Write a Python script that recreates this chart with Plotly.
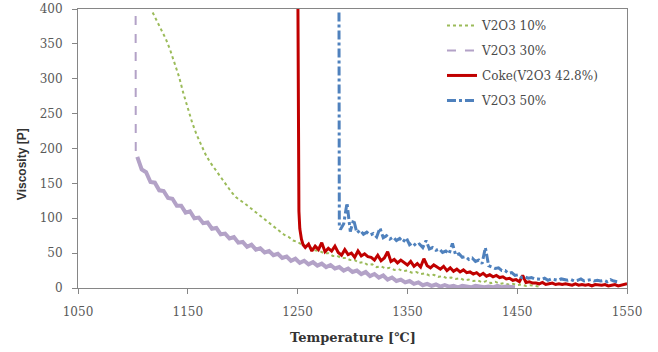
import plotly.graph_objects as go

# ---------------- data ----------------
# V2O3 10 %
g_T = list(range(1118, 1471, 4))
g_V = [395, 382, 370, 357, 341, 323, 303, 279, 256, 237,
       220, 205, 192, 181, 172, 163, 154, 145, 137, 130,
       126, 121, 116, 111, 105, 100, 95, 90, 85, 80,
       76, 73, 68, 66, 62, 60, 58, 54, 53, 50,
       50, 46, 46, 43, 43, 40, 40, 36, 37, 33,
       34, 30, 31, 28, 29, 26, 27, 24, 25, 22,
       23, 20, 21, 18, 19, 16, 17, 14, 15, 13,
       14, 11, 12, 10, 11, 8, 10, 7, 9, 6,
       7, 5, 6, 4, 5, 3, 4, 3, 2]

# V2O3 30 %  (vertical drop, then noisy decay)
p_head_T = [1102.5, 1102.6]
p_head_V = [390, 195]
p_T = list(range(1104, 1452, 4))
p_V = [188, 170, 166, 152, 151, 140, 139, 129, 128, 118,
       118, 108, 110, 100, 101, 93, 94, 85, 86, 77,
       78, 71, 73, 65, 66, 59, 62, 55, 57, 51,
       53, 47, 49, 43, 45, 39, 42, 36, 39, 34,
       37, 32, 35, 30, 33, 28, 30, 25, 28, 23,
       25, 20, 23, 17, 20, 15, 18, 12, 15, 10,
       12, 8, 10, 6, 8, 4, 6, 3, 5, 2,
       4, 2, 3, 1, 3, 2, 1, 3, 2, 1,
       2, 1, 3, 1, 2, 1, 1]

# Coke (V2O3 42.8 %)
c_T = [1250.3, 1250.6, 1251.2, 1252, 1253.5, 1255] + list(range(1257, 1551, 3)) + [1550]
c_V = [405, 200, 110, 85, 70, 62,
       58, 63, 53, 60, 55, 65, 52, 57, 53, 60,
       51, 47, 55, 48, 50, 44, 53, 46, 49, 45,
       44, 40, 47, 39, 43, 52, 38, 41, 36, 40,
       37, 33, 38, 31, 35, 30, 42, 32, 29, 33,
       30, 27, 31, 25, 29, 24, 27, 23, 26, 22,
       23, 20, 22, 18, 21, 17, 19, 16, 18, 15,
       16, 13, 14, 11, 12, 9, 18, 8, 9, 7,
       7, 6, 8, 5, 6, 7, 5, 6, 5, 6,
       5, 4, 6, 4, 5, 4, 5, 3, 5, 4,
       4, 5, 3, 4, 5, 3, 4, 6,
       6]

# V2O3 50 %
b_T = [1287.7, 1287.8, 1288] + list(range(1289, 1542, 3))
b_V = [395, 100, 88,
       84, 92, 122, 81, 98, 79, 83, 77, 80, 76,
       78, 73, 86, 72, 75, 70, 73, 68, 71, 66,
       72, 62, 65, 60, 63, 58, 68, 56, 58, 54,
       56, 51, 53, 49, 64, 47, 49, 44, 45, 41,
       43, 38, 40, 35, 58, 32, 30, 28, 29, 25,
       25, 21, 22, 18, 19, 15, 16, 14, 15, 13,
       13, 12, 14, 11, 13, 12, 11, 13, 12, 11,
       12, 10, 11, 13, 10, 11, 12, 10, 11, 10,
       11, 9, 12, 10, 9]

x_ticks = [1050, 1150, 1250, 1350, 1450, 1550]
y_ticks = [0, 50, 100, 150, 200, 250, 300, 350, 400]

names = ["V2O3 10%", "V2O3 30%", "Coke(V2O3 42.8%)", "V2O3 50%"]
GREEN, PURPLE, RED, BLUE = "#9BBB59", "#B3A2C7", "#C00000", "#4F81BD"

fig = go.Figure()
fig.add_trace(go.Scatter(x=g_T, y=g_V, mode="lines", name=names[0], legendgroup="a",
                         line=dict(color=GREEN, width=2, dash="dot")))
fig.add_trace(go.Scatter(x=p_head_T + [p_T[0]], y=p_head_V + [p_V[0]], mode="lines", name=names[1],
                         legendgroup="b", line=dict(color=PURPLE, width=2, dash="dash")))
fig.add_trace(go.Scatter(x=p_T, y=p_V, mode="lines", name=names[1], legendgroup="b", showlegend=False,
                         line=dict(color=PURPLE, width=4)))
fig.add_trace(go.Scatter(x=c_T, y=c_V, mode="lines", name=names[2], legendgroup="c",
                         line=dict(color=RED, width=3)))
fig.add_trace(go.Scatter(x=b_T, y=b_V, mode="lines", name=names[3], legendgroup="d",
                         line=dict(color=BLUE, width=3, dash="dashdot")))

AX = "#868686"
TICKFONT = dict(family="DejaVu Serif", size=12, color="#595959")
fig.update_layout(
    width=658, height=352,
    margin=dict(l=78, r=31, t=9, b=64),
    paper_bgcolor="white", plot_bgcolor="white",
    showlegend=True,
    legend=dict(x=0.663, y=0.993, xanchor="left", yanchor="top",
                font=dict(family="DejaVu Serif", size=12, color="#4a4a4a"),
                tracegroupgap=6, traceorder="grouped", bgcolor="rgba(0,0,0,0)"),
    xaxis=dict(range=[1050, 1550], tickvals=x_ticks, ticks="outside", ticklen=5, tickcolor=AX,
               showline=True, linecolor=AX, linewidth=1, mirror=True, showgrid=False, zeroline=False,
               tickfont=TICKFONT, ticklabelstandoff=8, automargin=False),
    yaxis=dict(range=[0, 400], tickvals=y_ticks, ticks="outside", ticklen=5, tickcolor=AX,
               showline=True, linecolor=AX, linewidth=1, mirror=True, showgrid=False, zeroline=False,
               tickfont=TICKFONT, ticklabelstandoff=7, automargin=False),
    annotations=[
        dict(text="<b>Temperature [℃]</b>", x=0.5, y=-0.179, xref="paper", yref="paper",
             xanchor="center", yanchor="middle", showarrow=False,
             font=dict(family="DejaVu Serif", size=13, color="#333333")),
        dict(text="<b>Viscosity [P]</b>", x=-0.102, y=0.444, xref="paper", yref="paper",
             xanchor="center", yanchor="middle", showarrow=False, textangle=-90,
             font=dict(family="Liberation Sans", size=12, color="#333333")),
    ],
)

fig.write_html("out.html", config={"displayModeBar": False},
               post_script="document.body.style.margin='0';")
